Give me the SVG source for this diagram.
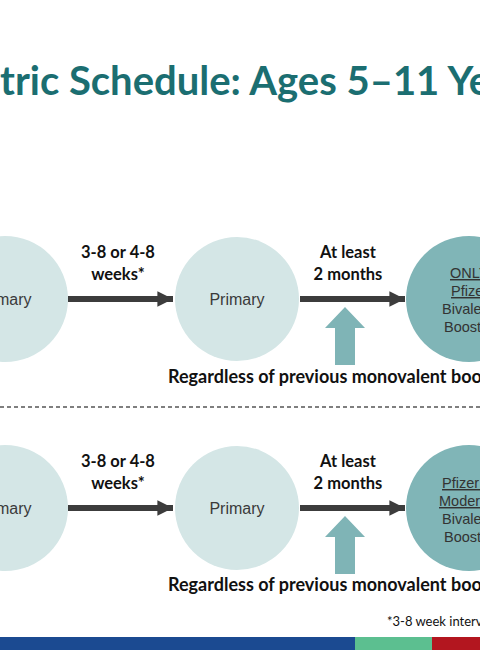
<svg xmlns="http://www.w3.org/2000/svg" width="480" height="650" viewBox="0 0 480 650">
<defs>
<style>
.title{font-family:Lato,"Open Sans",sans-serif;font-weight:bold;font-size:40px;fill:#1b6e71}
.lbl{font-family:Lato,"Open Sans",sans-serif;font-weight:bold;font-size:16.5px;fill:#111}
.reg{font-family:Lato,"Open Sans",sans-serif;font-weight:bold;font-size:18px;fill:#111}
.node{font-family:"Liberation Sans",Arial,sans-serif;font-size:16px;fill:#3a3a3a}
.bnode{font-family:"Liberation Sans",Arial,sans-serif;font-size:14.5px;fill:#333}
.light{fill:#d4e6e6}
.dark{fill:#80b5b7}
.foot{font-family:Lato,"Open Sans",sans-serif;font-size:13px;fill:#111}
.conn{stroke:#3c3c3c;stroke-width:6;fill:none}
</style>
<marker id="ah" viewBox="0 0 10 10" refX="10" refY="5" markerWidth="2.6" markerHeight="2.6" markerUnits="strokeWidth" orient="auto">
<path d="M0,0 L10,5 L0,10 Z" fill="#3c3c3c"/>
</marker>
<path id="up" d="M-10,0 L-10,-37 L-20,-37 L0,-58 L20,-37 L10,-37 L10,0 Z"/>
</defs>
<rect width="480" height="650" fill="#ffffff"/>
<text class="title" x="0" y="95">tric Schedule: Ages 5–11 Ye</text>

<g id="row1-n1"><circle class="light" cx="5" cy="299" r="63"/><text class="node" x="-4" y="305">mary</text></g>
<g id="row1-n2"><circle class="light" cx="237" cy="299" r="62"/><text class="node" x="237" y="305" text-anchor="middle">Primary</text></g>
<g id="row1-n3"><circle class="dark" cx="469" cy="299" r="63"/>
<text class="bnode" x="450" y="278" text-decoration="underline">ONLY</text>
<text class="bnode" x="451" y="296" text-decoration="underline">Pfizer</text>
<text class="bnode" x="442" y="314">Bivalent</text>
<text class="bnode" x="444" y="332">Booster</text></g>

<g id="row2-n1"><circle class="light" cx="5" cy="508" r="63"/><text class="node" x="-4" y="514">mary</text></g>
<g id="row2-n2"><circle class="light" cx="237" cy="508" r="62"/><text class="node" x="237" y="514" text-anchor="middle">Primary</text></g>
<g id="row2-n3"><circle class="dark" cx="469" cy="508" r="63"/>
<text class="bnode" x="442" y="488" text-decoration="underline">Pfizer or</text>
<text class="bnode" x="439" y="506" text-decoration="underline">Moderna</text>
<text class="bnode" x="442" y="524">Bivalent</text>
<text class="bnode" x="444" y="542">Booster</text></g>

<g id="connectors">
<line class="conn" x1="68" y1="299" x2="173" y2="299" marker-end="url(#ah)"/>
<line class="conn" x1="300" y1="299" x2="405" y2="299" marker-end="url(#ah)"/>
<line class="conn" x1="68" y1="508" x2="173" y2="508" marker-end="url(#ah)"/>
<line class="conn" x1="300" y1="508" x2="405" y2="508" marker-end="url(#ah)"/>
<use href="#up" x="345" y="365" fill="#7fb4b6"/>
<use href="#up" x="345" y="574" fill="#7fb4b6"/>
<line x1="0" y1="407" x2="480" y2="407" stroke="#555" stroke-width="1.5" stroke-dasharray="4 3"/>
</g>

<g id="labels">
<text class="lbl" x="118" y="258" text-anchor="middle">3-8 or 4-8</text>
<text class="lbl" x="118" y="280" text-anchor="middle">weeks*</text>
<text class="lbl" x="348" y="258" text-anchor="middle">At least</text>
<text class="lbl" x="348" y="280" text-anchor="middle">2 months</text>
<text class="reg" x="168" y="383">Regardless of previous monovalent boo</text>
<text class="lbl" x="118" y="467" text-anchor="middle">3-8 or 4-8</text>
<text class="lbl" x="118" y="489" text-anchor="middle">weeks*</text>
<text class="lbl" x="348" y="467" text-anchor="middle">At least</text>
<text class="lbl" x="348" y="489" text-anchor="middle">2 months</text>
<text class="reg" x="168" y="591">Regardless of previous monovalent boo</text>
<text class="foot" x="387" y="626">*3-8 week interv</text>
</g>

<g id="bar">
<rect x="0" y="637" width="355" height="13" fill="#1b4a91"/>
<rect x="355" y="637" width="77" height="13" fill="#5cbf90"/>
<rect x="432" y="637" width="48" height="13" fill="#b3161f"/>
</g>
</svg>
